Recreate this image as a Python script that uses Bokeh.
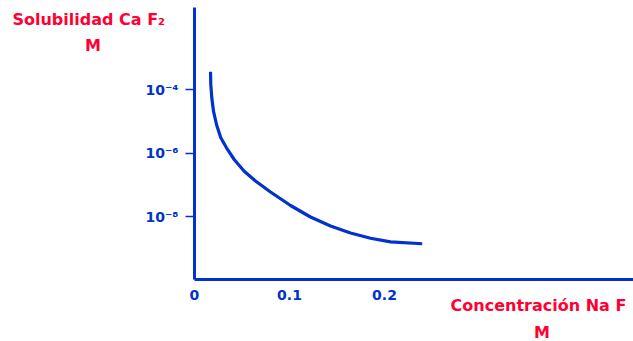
from bokeh.plotting import figure
from bokeh.models import FixedTicker, Range1d, Label
from bokeh.embed import file_html
from bokeh.resources import INLINE

# Data (NaF concentration, M ; CaF2 solubility, M)
conc = [0.01684, 0.01716, 0.01821, 0.0200, 0.02316, 0.02768, 0.03368, 0.04179, 0.05232,
        0.06421, 0.0800, 0.1011, 0.1221, 0.1432, 0.1642, 0.1853, 0.2063, 0.2397]
solub = [3.70e-4, 1.47e-4, 5.60e-5, 2.11e-5, 8.04e-6, 3.06e-6, 1.48e-6, 6.33e-7, 2.70e-7,
         1.33e-7, 5.97e-8, 2.24e-8, 9.71e-9, 5.05e-9, 3.04e-9, 2.07e-9, 1.60e-9, 1.39e-9]

x_ticks = [0, 0.1, 0.2]
x_tick_labels = ["0", "0.1", "0.2"]
y_ticks = [1e-4, 1e-6, 1e-8]
y_tick_labels = ["10\u207b\u2074", "10\u207b\u2076", "10\u207b\u2078"]

y_title = "Solubilidad Ca F\u2082"
x_title = "Concentración Na F"
unit = "M"

BLUE = "#0033cc"
RED = "#ff0033"
FONT = "DejaVu Sans"

# axis extents (data units)
X_MIN, X_MAX = 0.0, 0.4621
Y_MIN, Y_MAX = 10 ** -9.984, 10 ** -1.404

p = figure(width=633, height=341, y_axis_type="log",
           x_range=Range1d(-0.2042, 0.4621), y_range=Range1d(10 ** -11.940, 10 ** -1.183),
           output_backend="svg", toolbar_location=None,
           min_border_left=0, min_border_right=0, min_border_top=0, min_border_bottom=0)
p.outline_line_color = None
p.grid.visible = False
p.background_fill_color = "white"
p.border_fill_color = "white"

p.line(conc, solub, line_color=BLUE, line_width=3.2, line_join="round")

# x axis
xa = p.xaxis[0]
xa.fixed_location = Y_MIN
xa.bounds = (X_MIN, X_MAX)
xa.ticker = FixedTicker(ticks=x_ticks)
xa.major_label_overrides = dict(zip(x_ticks, x_tick_labels))
xa.axis_line_color = BLUE
xa.axis_line_width = 3
xa.major_tick_line_color = None
xa.major_tick_out = 0
xa.major_tick_in = 0
xa.minor_tick_line_color = None
xa.major_label_text_color = BLUE
xa.major_label_text_font = FONT
xa.major_label_text_font_style = "bold"
xa.major_label_text_font_size = "14px"
xa.major_label_standoff = 11

# y axis
ya = p.yaxis[0]
ya.fixed_location = X_MIN
ya.bounds = (Y_MIN, Y_MAX)
ya.ticker = FixedTicker(ticks=y_ticks)
ya.major_label_overrides = dict(zip(y_ticks, y_tick_labels))
ya.axis_line_color = BLUE
ya.axis_line_width = 3
ya.major_tick_line_color = BLUE
ya.major_tick_line_width = 1.5
ya.major_tick_out = 9
ya.major_tick_in = 0
ya.minor_tick_line_color = None
ya.major_label_text_color = BLUE
ya.major_label_text_font = FONT
ya.major_label_text_font_style = "bold"
ya.major_label_text_font_size = "14px"
ya.major_label_standoff = 7

def add_label(text, x, y, align):
    p.add_layout(Label(x=x, y=y, text=text,
                       text_align=align, text_baseline="alphabetic",
                       text_color=RED, text_font=FONT, text_font_style="bold",
                       text_font_size="16px"))

# axis titles
add_label(y_title, -0.1916, 10 ** -1.782, "left")
add_label(unit, -0.1068, 10 ** -2.603, "center")
add_label(x_title, 0.3621, 10 ** -10.804, "center")
add_label(unit, 0.3658, 10 ** -11.647, "center")

open("out.html", "w").write(file_html(p, INLINE))
